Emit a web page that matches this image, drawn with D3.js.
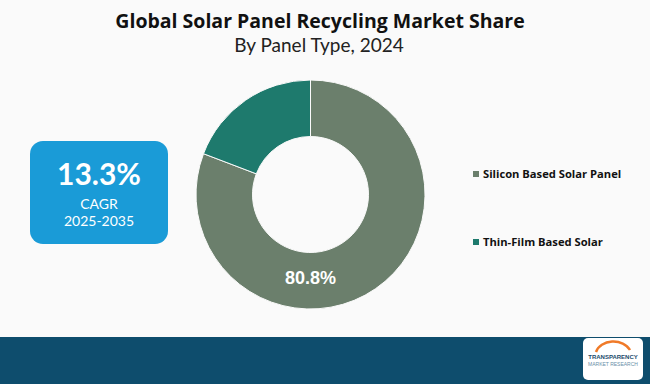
<!DOCTYPE html>
<html>
<head>
<meta charset="utf-8">
<script src="https://cdn.jsdelivr.net/npm/d3@7"></script>
<style>
  body { margin: 0; background: #fafafa; }
</style>
</head>
<body>
<script>
var kategorien = ["Silicon Based Solar Panel", "Thin-Film Based Solar"];
var aandeel = [80.8, 19.2];
var kleuren = ["#6b7f6c", "#1e7a6d"];

var breedte = 650, hoogte = 384;

var svg = d3.select("body").append("svg")
  .attr("width", breedte)
  .attr("height", hoogte);

svg.append("rect").attr("width", breedte).attr("height", hoogte).attr("fill", "#fafafa");

// titels
svg.append("text")
  .attr("x", 320).attr("y", 28)
  .attr("text-anchor", "middle")
  .attr("font-family", "Open Sans, sans-serif")
  .attr("font-weight", "bold")
  .attr("font-size", "19.5px")
  .attr("fill", "#111")
  .text("Global Solar Panel Recycling Market Share");

svg.append("text")
  .attr("x", 319).attr("y", 52)
  .attr("text-anchor", "middle")
  .attr("font-family", "Lato, sans-serif")
  .attr("font-size", "19px")
  .attr("fill", "#222")
  .text("By Panel Type, 2024");

// donut
var data = kategorien.map(function(k, i) { return {naam: k, waarde: aandeel[i], kleur: kleuren[i]}; });
var pie = d3.pie().sort(null).value(function(d) { return d.waarde; });
var boog = d3.arc().innerRadius(58).outerRadius(114.5);

var g = svg.append("g").attr("transform", "translate(310.5,194.5)");
g.selectAll("path")
  .data(pie(data))
  .enter().append("path")
  .attr("d", boog)
  .attr("fill", function(d) { return d.data.kleur; })
  .attr("stroke", "#fafafa")
  .attr("stroke-width", 1);

g.append("text")
  .attr("x", 0).attr("y", 89)
  .attr("text-anchor", "middle")
  .attr("font-family", "Liberation Sans, Arial, sans-serif")
  .attr("font-weight", "bold")
  .attr("font-size", "18px")
  .attr("fill", "#fff")
  .text(aandeel[0] + "%");

// CAGR blok
svg.append("rect")
  .attr("x", 30).attr("y", 141)
  .attr("width", 138).attr("height", 103)
  .attr("rx", 13)
  .attr("fill", "#1a9bd7");

svg.append("text")
  .attr("x", 99).attr("y", 185)
  .attr("text-anchor", "middle")
  .attr("font-family", "Lato, sans-serif")
  .attr("font-weight", "bold")
  .attr("font-size", "30px")
  .attr("fill", "#fff")
  .text("13.3%");

svg.append("text")
  .attr("x", 99).attr("y", 209)
  .attr("text-anchor", "middle")
  .attr("font-family", "Lato, sans-serif")
  .attr("font-size", "14px")
  .attr("fill", "#fff")
  .text("CAGR");

svg.append("text")
  .attr("x", 99).attr("y", 226)
  .attr("text-anchor", "middle")
  .attr("font-family", "Lato, sans-serif")
  .attr("font-size", "14px")
  .attr("fill", "#fff")
  .text("2025-2035");

// legenda
var legendaY = d3.scalePoint().domain(kategorien).range([175, 243]);
var legenda = svg.selectAll(".legenda")
  .data(data)
  .enter().append("g")
  .attr("class", "legenda")
  .attr("transform", function(d) { return "translate(473," + legendaY(d.naam) + ")"; });

legenda.append("rect")
  .attr("x", 0).attr("y", -4)
  .attr("width", 6).attr("height", 6)
  .attr("fill", function(d) { return d.kleur; });

legenda.append("text")
  .attr("x", 10).attr("y", 3)
  .attr("font-family", "Open Sans, sans-serif")
  .attr("font-weight", "bold")
  .attr("font-size", "11.2px")
  .attr("fill", "#111")
  .text(function(d) { return d.naam; });

// voetbalk
svg.append("rect")
  .attr("x", 0).attr("y", 337)
  .attr("width", breedte).attr("height", 47)
  .attr("fill", "#0e4d6d");

svg.append("rect")
  .attr("x", 583).attr("y", 338)
  .attr("width", 60).attr("height", 42)
  .attr("rx", 5)
  .attr("fill", "#fff");

svg.append("path")
  .attr("d", "M596,352 A18,14 0 0 1 630,350")
  .attr("fill", "none")
  .attr("stroke", "#f07a28")
  .attr("stroke-width", 2.5);

svg.append("text")
  .attr("x", 613).attr("y", 359)
  .attr("text-anchor", "middle")
  .attr("font-family", "Liberation Sans, sans-serif")
  .attr("font-weight", "bold")
  .attr("font-size", "6px")
  .attr("fill", "#1b4a6b")
  .text("TRANSPARENCY");

svg.append("text")
  .attr("x", 613).attr("y", 366)
  .attr("text-anchor", "middle")
  .attr("font-family", "Liberation Sans, sans-serif")
  .attr("font-size", "5px")
  .attr("fill", "#6a8fa8")
  .text("MARKET RESEARCH");
</script>
</body>
</html>
